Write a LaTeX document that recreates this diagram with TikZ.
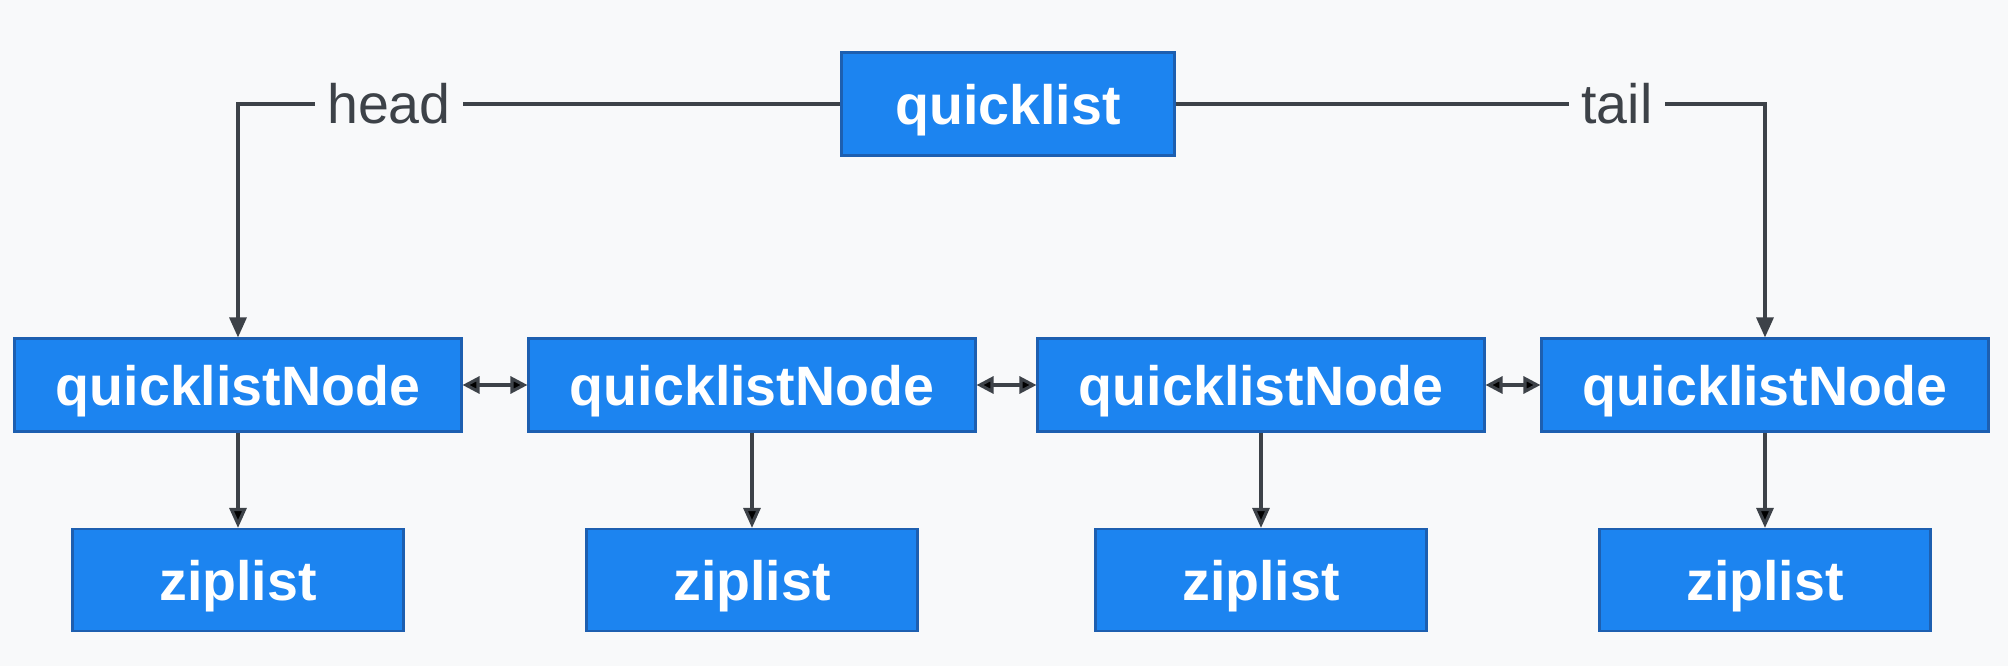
\documentclass[tikz,border=0pt]{standalone}
\usepackage{fontspec}
\setsansfont{Liberation Sans}
\usepackage{tikz}
\usetikzlibrary{arrows.meta}

\definecolor{bgcol}{HTML}{F8F9FA}
\definecolor{boxfill}{HTML}{1C84F0}
\definecolor{boxline}{HTML}{1D5FB0}
\definecolor{linecol}{HTML}{3D4248}

\begin{document}
\begin{tikzpicture}[font=\sffamily\fontsize{15.8}{18}\selectfont,
	box/.style={shape=rectangle,draw=boxline,line width=0.6pt,fill=boxfill,text=white,inner sep=0pt,text depth=0pt},
	topbox/.style={box,minimum width=3.33cm,minimum height=1.03cm},
	nodebox/.style={box,minimum width=4.47cm,minimum height=0.93cm},
	zipbox/.style={box,minimum width=3.31cm,minimum height=1.02cm},
	lbl/.style={text=linecol,inner xsep=0.12cm,inner ysep=0pt},
	conn/.style={draw=linecol,line width=0.9pt},
	tip/.style={-{Triangle[length=0.2cm,width=0.17cm]}},
	twotip/.style={{Triangle[length=0.17cm,width=0.17cm]}-{Triangle[length=0.17cm,width=0.17cm]}}]
	
	\fill[bgcol] (0, 0) rectangle (20.08, 6.66);
	\useasboundingbox (0, 0) rectangle (20.08, 6.66);
	
	\node[topbox] (ql) at (10.08, 5.62)     {\textbf{quicklist}};
	\node[lbl] (head) at (3.89, 5.62)       {head};
	\node[lbl] (tail) at (16.17, 5.62)      {tail};
	\node[nodebox] (n1) at (2.38, 2.81)     {\textbf{quicklistNode}};
	\node[nodebox] (n2) at (7.52, 2.81)     {\textbf{quicklistNode}};
	\node[nodebox] (n3) at (12.61, 2.81)    {\textbf{quicklistNode}};
	\node[nodebox] (n4) at (17.65, 2.81)    {\textbf{quicklistNode}};
	\node[zipbox] (z1) at (2.38, 0.86)      {\textbf{ziplist}};
	\node[zipbox] (z2) at (7.52, 0.86)      {\textbf{ziplist}};
	\node[zipbox] (z3) at (12.61, 0.86)     {\textbf{ziplist}};
	\node[zipbox] (z4) at (17.65, 0.86)     {\textbf{ziplist}};
	
	\path[conn] (ql.west) -- (head.east);
	\path[conn,tip] (head.west) -| (n1.north);
	\path[conn] (ql.east) -- (tail.west);
	\path[conn,tip] (tail.east) -| (n4.north);
	\path[conn,twotip] (n1) edge (n2);
	\path[conn,twotip] (n2) edge (n3);
	\path[conn,twotip] (n3) edge (n4);
	\path[conn,tip] (n1) edge (z1);
	\path[conn,tip] (n2) edge (z2);
	\path[conn,tip] (n3) edge (z3);
	\path[conn,tip] (n4) edge (z4);
	\end{tikzpicture}
\end{document}
